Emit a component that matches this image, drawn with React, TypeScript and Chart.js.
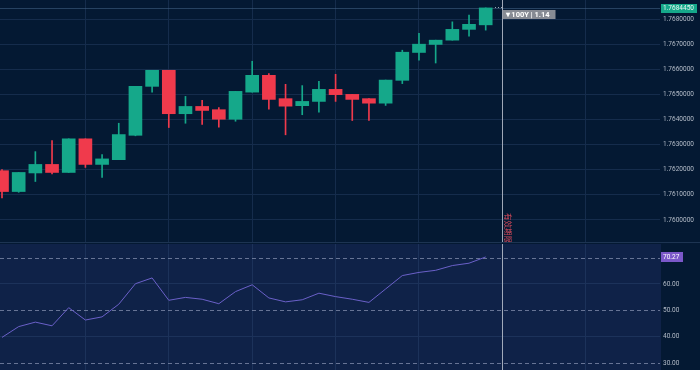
import React, { useEffect, useRef } from 'react';
import { Chart, registerables } from 'chart.js';

Chart.register(...registerables);

// ---- data ----
const opens = [1.76196, 1.76113, 1.76187, 1.76221, 1.76189, 1.76323, 1.76221, 1.7624, 1.76337, 1.76532, 1.76596, 1.76423, 1.76452, 1.76439, 1.76401, 1.76509, 1.76576, 1.76483, 1.76455, 1.76472, 1.7652, 1.765, 1.76483, 1.76465, 1.76556, 1.76667, 1.76699, 1.76716, 1.76759, 1.76777];
const highs = [1.762, 1.76189, 1.76272, 1.76316, 1.76323, 1.76323, 1.7626, 1.76385, 1.76532, 1.76596, 1.76596, 1.76492, 1.76476, 1.76447, 1.76512, 1.76632, 1.76583, 1.7654, 1.76535, 1.76552, 1.7658, 1.765, 1.76483, 1.76557, 1.76676, 1.76743, 1.76716, 1.76789, 1.76816, 1.768445];
const lows = [1.76088, 1.7611, 1.76153, 1.76183, 1.76189, 1.76209, 1.76169, 1.7624, 1.76335, 1.76509, 1.76368, 1.76385, 1.7638, 1.76369, 1.76393, 1.76509, 1.76441, 1.76339, 1.76419, 1.76429, 1.76472, 1.76396, 1.76396, 1.76456, 1.76543, 1.76636, 1.76625, 1.76716, 1.76732, 1.76756];
const closes = [1.76113, 1.76189, 1.76221, 1.76189, 1.76323, 1.76221, 1.76243, 1.7634, 1.76532, 1.76596, 1.76423, 1.76452, 1.76436, 1.76401, 1.76512, 1.76576, 1.7648, 1.76453, 1.76472, 1.7652, 1.76499, 1.7648, 1.76465, 1.76557, 1.76668, 1.767, 1.76716, 1.76759, 1.76779, 1.768445];
const rsiValues = [39.7, 43.8, 45.5, 44.1, 51.0, 46.3, 47.5, 52.3, 60.1, 62.3, 53.8, 54.9, 54.2, 52.5, 57.1, 59.7, 54.7, 53.2, 54.0, 56.5, 55.2, 54.2, 53.0, 58.1, 63.2, 64.4, 65.2, 67.0, 67.9, 70.27];
const priceTicks = [1.76, 1.761, 1.762, 1.763, 1.764, 1.765, 1.766, 1.767, 1.768];
const rsiTicks = [30, 40, 50, 60, 70];
const rsiBands = [30, 50, 70];
const gridIndices = [5, 10, 15, 20, 25, 30, 35];
const crosshairIndex = 30;
const lastPriceLabel = '1.7684450';
const rsiLabel = '70.27';
const tagText = '100Y | 1.14';
const expiryText = '有效期限';

// ---- styles ----
const BG = '#041933';
const PANE_BG = '#0f2248';
const GRID = '#152c4c';
const GRID_RSI = '#1c325a';
const UP = '#15a88a';
const DOWN = '#f03a4c';
const LABEL = '#b4bcc8';
const FONT = "Roboto, 'Liberation Sans', sans-serif";
const X_MIN = -0.12;
const X_MAX = 39.45;

const xScale = (gridColor: string) => ({
  type: 'linear' as const,
  min: X_MIN,
  max: X_MAX,
  offset: false,
  grid: { color: gridColor, drawTicks: false, offset: false },
  border: { display: false },
  ticks: { display: false },
  afterBuildTicks: (s: any) => {
    s.ticks = gridIndices.map((v) => ({ value: v }));
  },
});

export default function App() {
  const mainRef = useRef<HTMLCanvasElement>(null);
  const rsiRef = useRef<HTMLCanvasElement>(null);

  useEffect(() => {
    const idx = opens.map((_, i) => i);
    const colors = idx.map((i) => (closes[i] >= opens[i] ? UP : DOWN));
    const lastClose = closes[closes.length - 1];

    const mainOverlay = {
      id: 'mainOverlay',
      beforeDatasetsDraw(chart: any) {
        const { ctx, chartArea } = chart;
        const y = chart.scales.y.getPixelForValue(lastClose);
        ctx.save();
        ctx.strokeStyle = 'rgba(70,100,135,0.55)';
        ctx.lineWidth = 1;
        ctx.beginPath();
        ctx.moveTo(chartArea.left, Math.round(y) + 0.5);
        ctx.lineTo(chartArea.right, Math.round(y) + 0.5);
        ctx.stroke();
        ctx.restore();
      },
      afterDraw(chart: any) {
        const { ctx, chartArea, width, height } = chart;
        const xs = chart.scales.x;
        const ys = chart.scales.y;
        const cx = Math.round(xs.getPixelForValue(crosshairIndex)) + 0.5;
        const py = ys.getPixelForValue(lastClose);
        ctx.save();
        // dotted segment from last candle to crosshair
        ctx.fillStyle = 'rgba(200,205,215,0.8)';
        const startX = xs.getPixelForValue(closes.length - 1) + 9;
        for (let x = startX; x < cx - 1; x += 3) {
          ctx.fillRect(Math.round(x), Math.round(py) - 1, 1, 1);
        }
        // crosshair
        ctx.strokeStyle = 'rgba(195,200,210,0.8)';
        ctx.lineWidth = 1;
        ctx.beginPath();
        ctx.moveTo(cx, 0);
        ctx.lineTo(cx, height);
        ctx.stroke();
        // tag box
        ctx.fillStyle = 'rgba(150,152,158,0.9)';
        ctx.fillRect(cx, 10, 53, 9);
        ctx.fillStyle = '#ffffff';
        ctx.font = `bold 7.5px ${FONT}`;
        ctx.textBaseline = 'middle';
        ctx.textAlign = 'left';
        ctx.fillText('▾ ' + tagText, cx + 3, 14.8);
        // expiry text (vertical)
        ctx.save();
        ctx.translate(cx + 2, 213);
        ctx.rotate(Math.PI / 2);
        ctx.fillStyle = '#d4495a';
        ctx.font = `7.5px 'Noto Sans CJK SC'`;
        ctx.textBaseline = 'bottom';
        ctx.fillText(expiryText, 0, 0);
        ctx.restore();
        // last price box
        ctx.fillStyle = UP;
        ctx.fillRect(chartArea.right + 1, Math.round(py) - 4, 36, 9);
        ctx.fillStyle = '#eaf6f2';
        ctx.font = `6.5px ${FONT}`;
        ctx.textBaseline = 'middle';
        ctx.fillText(lastPriceLabel, chartArea.right + 3, Math.round(py) + 0.7);
        // pane divider
        ctx.strokeStyle = '#1d3452';
        ctx.beginPath();
        ctx.moveTo(0, height - 0.5);
        ctx.lineTo(width, height - 0.5);
        ctx.stroke();
        ctx.restore();
      },
    };

    const main = new Chart(mainRef.current!, {
      type: 'bar',
      data: {
        datasets: [
          {
            data: idx.map((i) => ({ x: i, y: [lows[i], highs[i]] })) as any,
            backgroundColor: colors,
            barThickness: 1,
            grouped: false,
            order: 2,
          },
          {
            data: idx.map((i) => ({ x: i, y: [opens[i], closes[i]] })) as any,
            backgroundColor: colors,
            barThickness: 13,
            minBarLength: 1,
            grouped: false,
            order: 1,
          },
        ],
      },
      options: {
        responsive: false,
        animation: false,
        events: [],
        layout: { padding: 0 },
        plugins: { legend: { display: false }, tooltip: { enabled: false } },
        scales: {
          x: xScale(GRID) as any,
          y: {
            type: 'linear',
            position: 'right',
            min: 1.75908,
            max: 1.76876,
            grid: { color: GRID, drawTicks: false },
            border: { display: false },
            ticks: {
              color: LABEL,
              font: { size: 6.5, family: FONT },
              padding: 3,
              callback: (v: any) => Number(v).toFixed(7),
            },
            afterBuildTicks: (s: any) => {
              s.ticks = priceTicks.map((v) => ({ value: v }));
            },
            afterFit: (s: any) => {
              s.width = 40;
              s.paddingTop = 0;
              s.paddingBottom = 0;
            },
          } as any,
        },
      },
      plugins: [mainOverlay],
    });

    const rsiOverlay = {
      id: 'rsiOverlay',
      beforeDraw(chart: any) {
        const { ctx, chartArea } = chart;
        ctx.save();
        ctx.fillStyle = PANE_BG;
        ctx.fillRect(chartArea.left, chartArea.top, chartArea.right - chartArea.left + 1, chartArea.bottom - chartArea.top);
        ctx.restore();
      },
      beforeDatasetsDraw(chart: any) {
        const { ctx, chartArea } = chart;
        const ys = chart.scales.y;
        ctx.save();
        ctx.strokeStyle = 'rgba(150,162,190,0.65)';
        ctx.lineWidth = 1;
        ctx.setLineDash([4, 3]);
        rsiBands.forEach((b) => {
          const y = Math.round(ys.getPixelForValue(b)) + 0.5;
          ctx.beginPath();
          ctx.moveTo(chartArea.left, y);
          ctx.lineTo(chartArea.right, y);
          ctx.stroke();
        });
        ctx.restore();
      },
      afterDraw(chart: any) {
        const { ctx, chartArea, height } = chart;
        const xs = chart.scales.x;
        const ys = chart.scales.y;
        const cx = Math.round(xs.getPixelForValue(crosshairIndex)) + 0.5;
        ctx.save();
        ctx.strokeStyle = 'rgba(195,200,210,0.8)';
        ctx.lineWidth = 1;
        ctx.beginPath();
        ctx.moveTo(cx, 0);
        ctx.lineTo(cx, height);
        ctx.stroke();
        const ly = Math.round(ys.getPixelForValue(rsiValues[rsiValues.length - 1]));
        ctx.fillStyle = '#7b58c9';
        ctx.fillRect(chartArea.right + 1, ly - 5, 22, 10);
        ctx.fillStyle = '#ffffff';
        ctx.font = `6.5px ${FONT}`;
        ctx.textBaseline = 'middle';
        ctx.textAlign = 'left';
        ctx.fillText(rsiLabel, chartArea.right + 3, ly + 0.5);
        ctx.restore();
      },
    };

    const rsi = new Chart(rsiRef.current!, {
      type: 'line',
      data: {
        datasets: [
          {
            data: idx.map((i) => ({ x: i, y: rsiValues[i] })),
            borderColor: '#6a60c8',
            borderWidth: 1,
            pointRadius: 0,
            tension: 0,
            fill: false,
          },
        ],
      },
      options: {
        responsive: false,
        animation: false,
        events: [],
        layout: { padding: 0 },
        plugins: { legend: { display: false }, tooltip: { enabled: false } },
        scales: {
          x: xScale(GRID_RSI) as any,
          y: {
            type: 'linear',
            position: 'right',
            min: 27.3,
            max: 75.2,
            grid: {
              drawTicks: false,
              color: (c: any) => (c.tick && rsiBands.includes(c.tick.value) ? 'rgba(0,0,0,0)' : GRID_RSI),
            },
            border: { display: false },
            ticks: {
              color: LABEL,
              font: { size: 6.5, family: FONT },
              padding: 3,
              callback: (v: any) => (Number(v) === 70 ? '' : Number(v).toFixed(2)),
            },
            afterBuildTicks: (s: any) => {
              s.ticks = rsiTicks.map((v) => ({ value: v }));
            },
            afterFit: (s: any) => {
              s.width = 40;
              s.paddingTop = 0;
              s.paddingBottom = 0;
            },
          } as any,
        },
      },
      plugins: [rsiOverlay],
    });

    return () => {
      main.destroy();
      rsi.destroy();
    };
  }, []);

  return (
    <div style={{ position: 'fixed', left: 0, top: 0, width: 700, height: 370, background: BG, overflow: 'hidden' }}>
      <canvas ref={mainRef} width={700} height={243} style={{ position: 'absolute', left: 0, top: 0, width: 700, height: 243 }} />
      <canvas ref={rsiRef} width={700} height={126} style={{ position: 'absolute', left: 0, top: 244, width: 700, height: 126 }} />
    </div>
  );
}
